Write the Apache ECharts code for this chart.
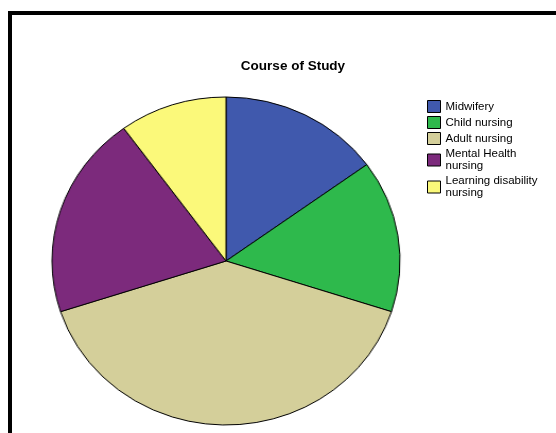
<!DOCTYPE html>
<html>
<head>
<meta charset="utf-8">
<script src="https://cdn.jsdelivr.net/npm/echarts@6/dist/echarts.min.js"></script>
<style>
  html, body { margin: 0; padding: 0; background: #ffffff; }
  #wrap { position: relative; width: 556px; height: 433px; overflow: hidden; }
  #chart, #pie { position: absolute; left: 0; top: 0; width: 556px; height: 433px; }
  /* the pie is drawn slightly wider than tall */
  #pie { transform: scaleX(1.061); transform-origin: 226px 261px; }
</style>
</head>
<body>
<div id="wrap">
  <div id="chart"></div>
  <div id="pie"></div>
</div>
<script>
// Course of study split (percent of students)
const courses = ['Midwifery', 'Child nursing', 'Adult nursing', 'Mental Health\nnursing', 'Learning disability\nnursing'];
const shares = [15, 15, 40, 20, 10];
const sliceColors = ['#4059ad', '#2eb94c', '#d4cf9a', '#7c2a7c', '#fbf97a'];

const pieData = courses.map((name, i) => ({
  name: name,
  value: shares[i],
  itemStyle: { color: sliceColors[i] }
}));

const fontFamily = 'Liberation Sans, Arial, sans-serif';

// Frame, title and legend
const chart = echarts.init(document.getElementById('chart'), null, { renderer: 'canvas' });
chart.setOption({
  backgroundColor: '#ffffff',
  animation: false,
  title: {
    text: 'Course of Study',
    left: 288,
    top: 54,
    textAlign: 'center',
    textStyle: { fontFamily: fontFamily, fontSize: 13.5, fontWeight: 'bold', color: '#000000' }
  },
  legend: {
    orient: 'vertical',
    left: 427,
    top: 100,
    padding: 0,
    itemGap: 3,
    itemWidth: 13,
    itemHeight: 12,
    icon: 'rect',
    selectedMode: false,
    itemStyle: { borderColor: '#000000', borderWidth: 1, opacity: 1 },
    textStyle: { fontFamily: fontFamily, fontSize: 11.5, lineHeight: 12, color: '#000000' },
    data: courses
  },
  graphic: [{
    type: 'rect',
    shape: { x: 10, y: 13, width: 700, height: 600 },
    style: { fill: 'none', stroke: '#000000', lineWidth: 4 },
    silent: true
  }],
  series: [{
    // supplies the legend swatches; the visible pie is drawn on the layer above
    type: 'pie',
    center: [226, 261],
    radius: 0,
    silent: true,
    label: { show: false },
    labelLine: { show: false },
    itemStyle: { borderWidth: 0 },
    data: pieData
  }]
});

// The pie itself
const pie = echarts.init(document.getElementById('pie'), null, { renderer: 'canvas' });
pie.setOption({
  backgroundColor: 'transparent',
  animation: false,
  series: [{
    type: 'pie',
    center: [226, 261],
    radius: 164,
    startAngle: 90,
    clockwise: true,
    label: { show: false },
    labelLine: { show: false },
    emphasis: { disabled: true },
    itemStyle: { borderColor: '#000000', borderWidth: 1 },
    data: pieData
  }]
});
</script>
</body>
</html>
